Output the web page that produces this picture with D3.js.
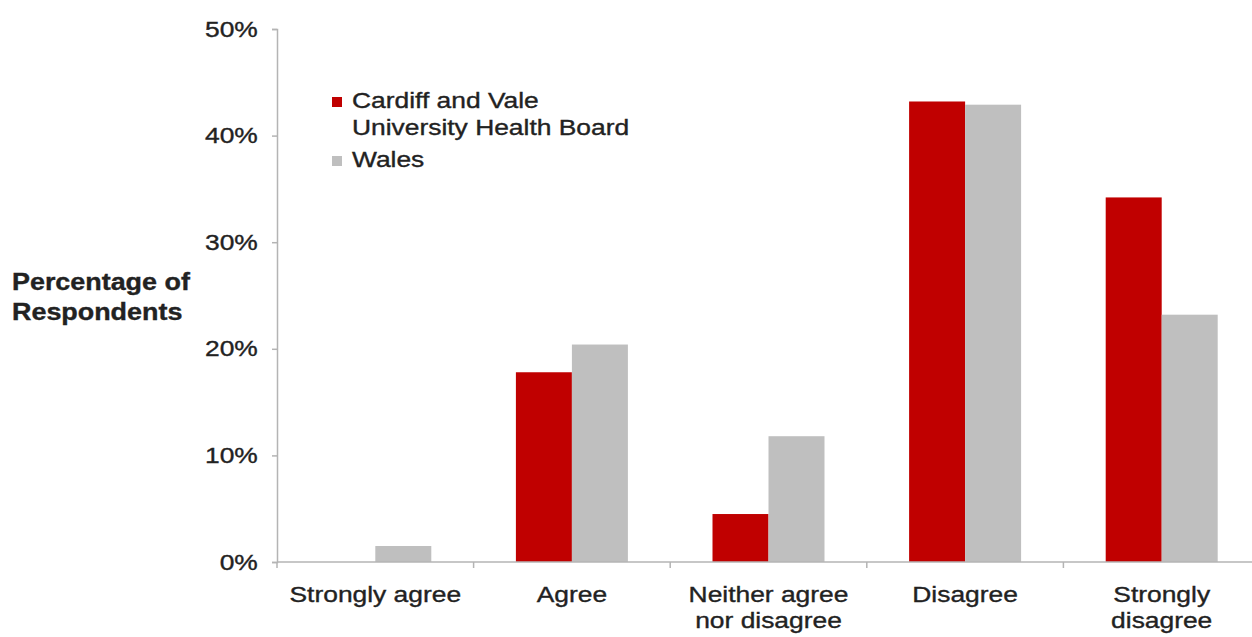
<!DOCTYPE html>
<html>
<head>
<meta charset="utf-8">
<script src="https://cdn.jsdelivr.net/npm/d3@7"></script>
<style>
  html, body { margin: 0; padding: 0; background: #fff; }
  svg { display: block; }
  text { font-family: "Liberation Sans", Arial, sans-serif; fill: #222; stroke: #222; stroke-width: 0.35px; }
</style>
</head>
<body>
<svg id="chart" width="1252" height="637"></svg>
<script>
// Survey response categories (x axis)
const categories = ["Strongly agree", "Agree", "Neither agree nor disagree", "Disagree", "Strongly disagree"];
// Category labels as drawn, split into lines
const categoryLines = [["Strongly agree"], ["Agree"], ["Neither agree", "nor disagree"], ["Disagree"], ["Strongly", "disagree"]];
// Series names (legend)
const seriesNames = ["Cardiff and Vale University Health Board", "Wales"];
const legendLines = [["Cardiff and Vale", "University Health Board"], ["Wales"]];
// Share of respondents per category
const cardiffValues = [0.000, 0.178, 0.045, 0.432, 0.342];
const walesValues   = [0.015, 0.204, 0.118, 0.429, 0.232];
// Y axis ticks
const yTicks = [0, 0.1, 0.2, 0.3, 0.4, 0.5];

const seriesValues = [cardiffValues, walesValues];
const colors = ["#c00000", "#bfbfbf"];
const axisColor = "#b4b4b4";
const sx = 1.2; // horizontal stretch of the lettering

const svg = d3.select("#chart");

const plot = { left: 277, right: 1260, top: 29, bottom: 562 };

const x = d3.scaleBand().domain(categories).range([plot.left, plot.right]).padding(0);
const barW = 56;
const xs = d3.scaleBand().domain(seriesNames)
  .range([x.bandwidth() / 2 - barW, x.bandwidth() / 2 + barW]).padding(0);
const y = d3.scaleLinear().domain([0, 0.5]).range([plot.bottom, plot.top]);

// Bars
const groups = svg.append("g").selectAll("g")
  .data(categories)
  .join("g")
  .attr("transform", d => `translate(${x(d)},0)`);

groups.selectAll("rect")
  .data((d, i) => seriesNames.map((s, j) => ({ s, j, v: seriesValues[j][i] })))
  .join("rect")
  .filter(d => d.v > 0)
  .attr("x", d => xs(d.s))
  .attr("width", xs.bandwidth())
  .attr("y", d => y(d.v))
  .attr("height", d => y(0) - y(d.v))
  .attr("fill", d => colors[d.j]);

// Y axis
const yAxis = svg.append("g")
  .attr("transform", `translate(${plot.left},0)`)
  .call(d3.axisLeft(y).tickValues(yTicks).tickFormat(d3.format(".0%")).tickSize(5).tickPadding(11));
yAxis.selectAll("path, line").attr("stroke", axisColor).attr("stroke-width", 1.5);
yAxis.selectAll("text")
  .attr("font-size", 22)
  .attr("font-family", "Liberation Sans, Arial, sans-serif")
  .attr("fill", "#222")
  .attr("transform", `scale(${sx},1)`);

// X axis baseline and boundary ticks
const xAxis = svg.append("g");
xAxis.append("line")
  .attr("x1", plot.left).attr("x2", plot.right)
  .attr("y1", y(0)).attr("y2", y(0))
  .attr("stroke", axisColor).attr("stroke-width", 1.5);
xAxis.selectAll("line.tick")
  .data(categories)
  .join("line")
  .attr("class", "tick")
  .attr("x1", d => x(d)).attr("x2", d => x(d))
  .attr("y1", y(0)).attr("y2", y(0) + 6)
  .attr("stroke", axisColor).attr("stroke-width", 1.5);

// Category labels
const catLabels = svg.append("g").selectAll("text")
  .data(categories)
  .join("text")
  .attr("transform", d => `translate(${x(d) + x.bandwidth() / 2},602) scale(${sx},1)`)
  .attr("text-anchor", "middle")
  .attr("font-size", 22);
catLabels.selectAll("tspan")
  .data((d, i) => categoryLines[i])
  .join("tspan")
  .attr("x", 0)
  .attr("dy", (d, i) => i === 0 ? 0 : 26)
  .text(d => d);

// Y axis title
const yTitle = svg.append("text")
  .attr("transform", `translate(12,290) scale(1.17,1)`)
  .attr("font-size", 23)
  .attr("font-weight", "bold");
yTitle.selectAll("tspan")
  .data(["Percentage of", "Respondents"])
  .join("tspan")
  .attr("x", 0)
  .attr("dy", (d, i) => i === 0 ? 0 : 30)
  .text(d => d);

// Legend
const legend = svg.append("g");
const legendRows = [108, 167];
seriesNames.forEach((s, j) => {
  legend.append("rect")
    .attr("x", 332).attr("y", legendRows[j] - 11)
    .attr("width", 10).attr("height", 10)
    .attr("fill", colors[j]);
  const t = legend.append("text")
    .attr("transform", `translate(352,${legendRows[j]}) scale(${sx},1)`)
    .attr("font-size", 22);
  t.selectAll("tspan")
    .data(legendLines[j])
    .join("tspan")
    .attr("x", 0)
    .attr("dy", (d, i) => i === 0 ? 0 : 27)
    .text(d => d);
});
</script>
</body>
</html>
